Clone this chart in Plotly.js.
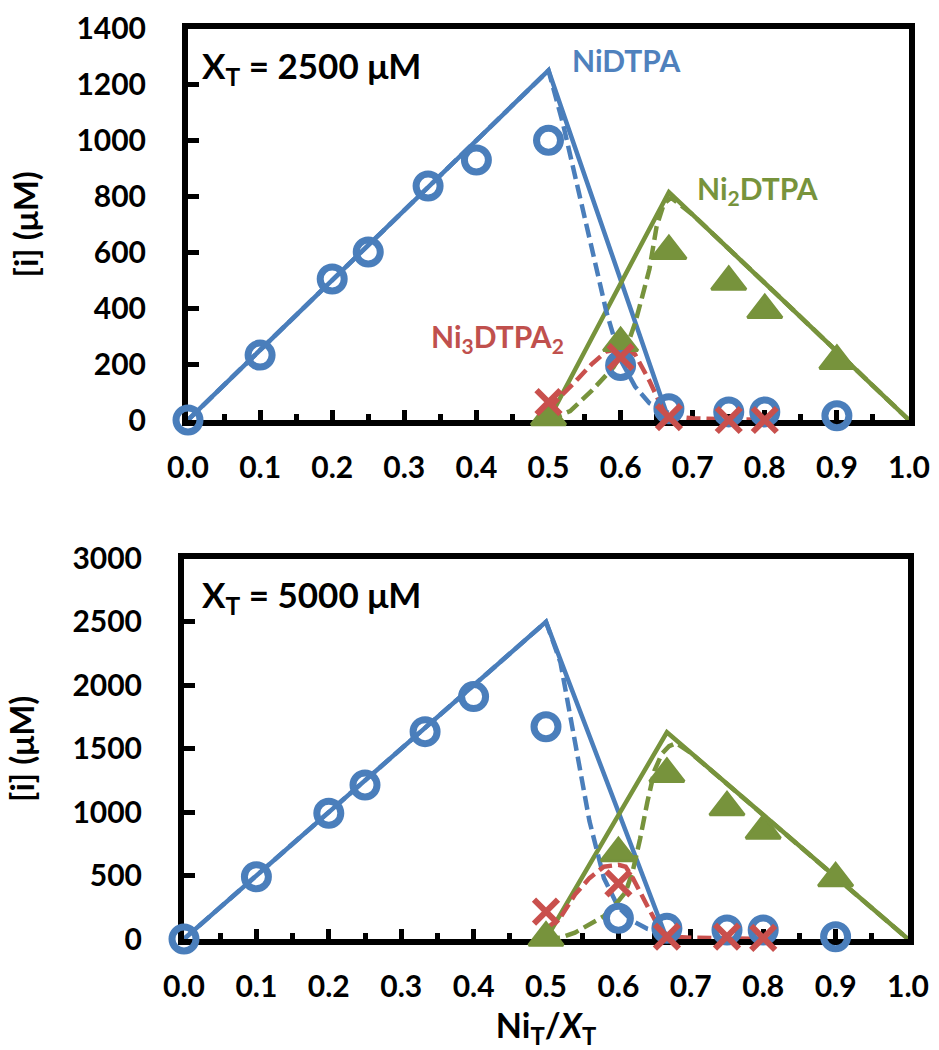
<!DOCTYPE html>
<html>
<head>
<meta charset="utf-8">
<script src="https://cdn.plot.ly/plotly-3.0.1.min.js"></script>
<style>
  html, body { margin: 0; padding: 0; background: #ffffff; }
  #chart { width: 939px; height: 1050px; }
</style>
</head>
<body>
<div id="chart"></div>
<script>
// ---------- Top panel: X_T = 2500 µM ----------
const ratioMeasNi = [0, 0.1, 0.2, 0.25, 0.333, 0.4, 0.5, 0.6, 0.667, 0.75, 0.8, 0.9];
const ratioMeasNi2 = [0.5, 0.6, 0.667, 0.75, 0.8, 0.9];
const ratioMeasNi3 = [0.5, 0.6, 0.667, 0.75, 0.8];

const niDTPAmeasTop = [0, 232, 504, 601, 837, 930, 1000, 195, 40, 29, 29, 15];
const ni2DTPAmeasTop = [10, 275, 604, 494, 393, 211];
const ni3DTPA2measTop = [64, 225, 10, 0, 0];

const ratioModelNiSolid = [0, 0.5, 0.667];
const ratioModelNi2Solid = [0.5, 0.667, 1.0];
const niDTPAsolidTop = [0, 1250, 0];
const ni2DTPAsolidTop = [0, 815, 0];

const ratioNiDashTop = [0, 0.5, 0.52, 0.54, 0.56, 0.58, 0.6, 0.62, 0.64, 0.667];
const niDTPAdashTop = [0, 1250, 1060, 830, 615, 390, 215, 120, 60, 25];
const ratioNi2DashTop = [0.5, 0.53, 0.56, 0.59, 0.61, 0.62, 0.63, 0.64, 0.65, 0.66, 0.67, 0.7, 0.8, 0.9, 1.0];
const ni2DTPAdashTop = [0, 32, 105, 188, 272, 346, 441, 540, 693, 773, 795, 734, 490, 245, 0];
const ratioNi3DashTop = [0.5, 0.52, 0.54, 0.56, 0.58, 0.6, 0.62, 0.64, 0.66, 0.667, 0.7, 0.75, 0.8];
const ni3DTPA2dashTop = [40, 90, 145, 200, 245, 255, 235, 140, 30, 15, 6, 3, 1];

// ---------- Bottom panel: X_T = 5000 µM ----------
const niDTPAmeasBot = [0, 491, 991, 1214, 1635, 1911, 1674, 163, 84, 71, 71, 18];
const ni2DTPAmeasBot = [10, 676, 1301, 1038, 854, 478];
const ni3DTPA2measBot = [215, 439, 18, 18, 8];

const niDTPAsolidBot = [0, 2500, 0];
const ni2DTPAsolidBot = [0, 1630, 0];

const ratioNiDashBot = [0, 0.5, 0.52, 0.54, 0.56, 0.58, 0.6, 0.62, 0.64, 0.667];
const niDTPAdashBot = [0, 2500, 2180, 1560, 930, 480, 250, 140, 80, 40];
const ratioNi2DashBot = [0.5, 0.52, 0.54, 0.56, 0.58, 0.6, 0.61, 0.62, 0.63, 0.64, 0.65, 0.66, 0.67, 0.68, 0.7, 0.8, 0.9, 1.0];
const ni2DTPAdashBot = [0, 10, 50, 110, 180, 300, 370, 540, 790, 1080, 1330, 1460, 1520, 1545, 1467, 978, 489, 0];
const ratioNi3DashBot = [0.5, 0.52, 0.54, 0.56, 0.58, 0.6, 0.61, 0.62, 0.64, 0.66, 0.667, 0.7, 0.75, 0.8];
const ni3DTPA2dashBot = [80, 170, 350, 480, 570, 585, 570, 480, 260, 50, 20, 10, 5, 2];

// ---------- tick labels / texts ----------
const xTickVals = [0, 0.1, 0.2, 0.3, 0.4, 0.5, 0.6, 0.7, 0.8, 0.9, 1.0];
const yTitle = '[i] (μM)';
const xTitle = 'Ni<sub>T</sub>/<i>X</i><sub>T</sub>';

const BLUE = '#4A7EBB', GREEN = '#77933C', RED = '#C9504D';
const FONT = 'Lato, "Open Sans", sans-serif';

function line(x, y, color, dash, xa, ya) {
  return {x: x, y: y, xaxis: xa, yaxis: ya, type: 'scatter', mode: 'lines',
    line: {color: color, width: 4.5, dash: dash ? '14px,6px' : 'solid'},
    cliponaxis: false, showlegend: false, hoverinfo: 'skip'};
}
function circles(x, y, xa, ya) {
  return {x: x, y: y, xaxis: xa, yaxis: ya, type: 'scatter', mode: 'markers',
    marker: {symbol: 'circle-open', size: 24, color: BLUE, line: {color: BLUE, width: 7}},
    cliponaxis: false, showlegend: false};
}
function triangles(x, y, xa, ya) {
  return {x: x, y: y, xaxis: xa, yaxis: ya, type: 'scatter', mode: 'markers',
    marker: {symbol: 'triangle-up', size: 30, color: GREEN, line: {color: GREEN, width: 3}},
    cliponaxis: false, showlegend: false};
}
function crosses(x, y, xa, ya) {
  return {x: x, y: y, xaxis: xa, yaxis: ya, type: 'scatter', mode: 'markers',
    marker: {symbol: 'x-thin-open', size: 24, color: RED, line: {color: RED, width: 6}},
    cliponaxis: false, showlegend: false};
}

const traces = [
  line(ratioModelNiSolid, niDTPAsolidTop, BLUE, false, 'x', 'y'),
  line(ratioModelNi2Solid, ni2DTPAsolidTop, GREEN, false, 'x', 'y'),
  line(ratioNiDashTop, niDTPAdashTop, BLUE, true, 'x', 'y'),
  line(ratioNi2DashTop, ni2DTPAdashTop, GREEN, true, 'x', 'y'),
  line(ratioNi3DashTop, ni3DTPA2dashTop, RED, true, 'x', 'y'),
  triangles(ratioMeasNi2, ni2DTPAmeasTop, 'x', 'y'),
  circles(ratioMeasNi, niDTPAmeasTop, 'x', 'y'),
  crosses(ratioMeasNi3, ni3DTPA2measTop, 'x', 'y'),

  line(ratioModelNiSolid, niDTPAsolidBot, BLUE, false, 'x2', 'y2'),
  line(ratioModelNi2Solid, ni2DTPAsolidBot, GREEN, false, 'x2', 'y2'),
  line(ratioNiDashBot, niDTPAdashBot, BLUE, true, 'x2', 'y2'),
  line(ratioNi2DashBot, ni2DTPAdashBot, GREEN, true, 'x2', 'y2'),
  line(ratioNi3DashBot, ni3DTPA2dashBot, RED, true, 'x2', 'y2'),
  triangles(ratioMeasNi2, ni2DTPAmeasBot, 'x2', 'y2'),
  circles(ratioMeasNi, niDTPAmeasBot, 'x2', 'y2'),
  crosses(ratioMeasNi3, ni3DTPA2measBot, 'x2', 'y2')
];

const tickFont = {family: FONT, size: 30, color: '#000000', weight: 'bold'};

function xAxis(domain, anchor, title) {
  const ax = {
    domain: domain, anchor: anchor, range: [0, 1], tickvals: xTickVals, tickformat: '.1f',
    showline: true, mirror: true, linewidth: 6, linecolor: '#000000',
    ticks: 'inside', ticklen: 10, tickwidth: 5, tickcolor: '#000000',
    minor: {dtick: 0.05, tick0: 0, ticks: 'inside', ticklen: 6, tickwidth: 5, tickcolor: '#000000', showgrid: false},
    showgrid: false, zeroline: false, tickfont: tickFont, ticklabelstandoff: 16,
    layer: 'below traces', fixedrange: true
  };
  if (title) ax.title = {text: title, font: {family: FONT, size: 34, color: '#000000', weight: 'bold'}, standoff: 22};
  return ax;
}
function yAxis(domain, anchor, maxV, step) {
  return {
    domain: domain, anchor: anchor, range: [0, maxV], dtick: step, tick0: 0,
    showline: true, mirror: true, linewidth: 6, linecolor: '#000000',
    ticks: 'inside', ticklen: 11, tickwidth: 5, tickcolor: '#000000',
    showgrid: false, zeroline: false, tickfont: tickFont, ticklabelstandoff: 30,
    title: {text: yTitle, font: {family: FONT, size: 33, color: '#000000', weight: 'bold'}, standoff: 30},
    layer: 'below traces', fixedrange: true
  };
}

const annFont = (c, s) => ({family: FONT, size: s, color: c, weight: 'bold'});
const annotations = [
  {xref: 'x', yref: 'y', x: 0.017, y: 1262, xanchor: 'left', yanchor: 'middle', showarrow: false,
   text: 'X<sub>T</sub> = 2500 μM', font: annFont('#000000', 35)},
  {xref: 'x', yref: 'y', x: 0.6075, y: 1286, xanchor: 'center', yanchor: 'middle', showarrow: false,
   text: 'NiDTPA', font: annFont('#4F81BD', 30)},
  {xref: 'x', yref: 'y', x: 0.79, y: 822, xanchor: 'center', yanchor: 'middle', showarrow: false,
   text: 'Ni<sub>2</sub>DTPA', font: annFont(GREEN, 30)},
  {xref: 'x', yref: 'y', x: 0.4286, y: 292, xanchor: 'center', yanchor: 'middle', showarrow: false,
   text: 'Ni<sub>3</sub>DTPA<sub>2</sub>', font: annFont('#C0504D', 30)},
  {xref: 'x2', yref: 'y2', x: 0.022, y: 2700, xanchor: 'left', yanchor: 'middle', showarrow: false,
   text: 'X<sub>T</sub> = 5000 μM', font: annFont('#000000', 35)}
];

const layout = {
  width: 939, height: 1050, margin: {l: 0, r: 0, t: 0, b: 0},
  paper_bgcolor: '#ffffff', plot_bgcolor: '#ffffff', showlegend: false,
  xaxis: xAxis([188 / 939, 909 / 939], 'y', null),
  yaxis: yAxis([1 - 420 / 1050, 1 - 28.5 / 1050], 'x', 1400, 200),
  xaxis2: xAxis([184 / 939, 908 / 939], 'y2', xTitle),
  yaxis2: yAxis([1 - 939 / 1050, 1 - 558.5 / 1050], 'x2', 3000, 500),
  annotations: annotations
};

Plotly.newPlot('chart', traces, layout, {staticPlot: true, displayModeBar: false});
</script>
</body>
</html>
